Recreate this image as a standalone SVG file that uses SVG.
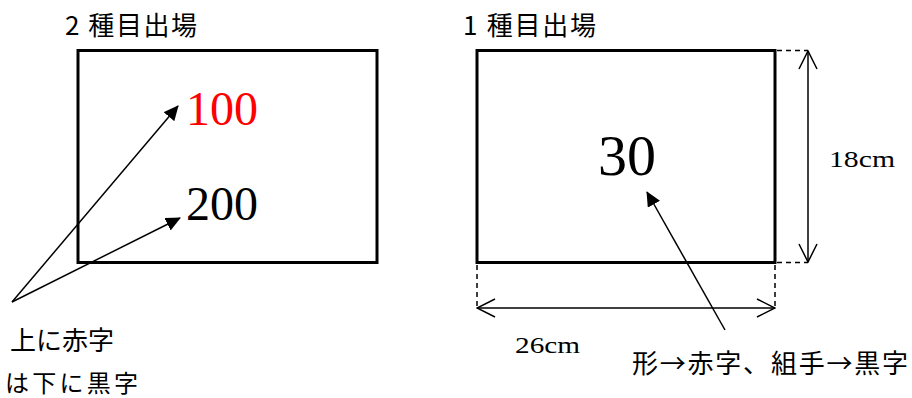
<svg xmlns="http://www.w3.org/2000/svg" width="912" height="398" viewBox="0 0 912 398">
<style>
.box{fill:#fff;stroke:#000;stroke-width:3}
.t{font-family:"Liberation Serif","Noto Sans CJK JP",serif;fill:#000}
.jp{font-family:"Noto Sans CJK JP","Liberation Serif",serif;fill:#000}
.ptr{stroke:#000;stroke-width:1.5;fill:none}
.dim{stroke:#000;stroke-width:1.5;fill:none}
.dash{stroke:#000;stroke-width:1.5;stroke-dasharray:5 4;fill:none}
</style>
<defs>
<marker id="fill" markerUnits="userSpaceOnUse" markerWidth="16" markerHeight="14" refX="14" refY="7" orient="auto">
<path d="M0,0 L15,7 L0,14 Z" fill="#000"/>
</marker>
<marker id="open" markerUnits="userSpaceOnUse" markerWidth="20" markerHeight="22" refX="19" refY="11" orient="auto-start-reverse">
<path d="M1,2 L19,11 L1,20" fill="none" stroke="#000" stroke-width="1.5"/>
</marker>
</defs>
<rect width="912" height="398" fill="#fff"/>
<g id="left-panel">
<text class="jp" x="65" y="35" font-size="26" textLength="132" lengthAdjust="spacing">2 種目出場</text>
<rect class="box" x="78" y="50.5" width="299" height="212"/>
<text class="t" x="186" y="125" font-size="48" fill="#ff0000" style="fill:#ff0000">100</text>
<text class="t" x="186" y="220" font-size="48">200</text>
</g>
<g id="right-panel">
<text class="jp" x="463" y="35" font-size="26" textLength="133" lengthAdjust="spacing">1 種目出場</text>
<rect class="box" x="477" y="50.5" width="298" height="212"/>
<text class="t" x="598" y="175" font-size="58">30</text>
</g>
<g id="dimension-height">
<text class="t" x="829" y="167" font-size="24" textLength="66" lengthAdjust="spacingAndGlyphs">18cm</text>
</g>
<g id="dimension-width">
<text class="t" x="515" y="353" font-size="24" textLength="65" lengthAdjust="spacingAndGlyphs">26cm</text>
</g>
<g id="note-right">
<text class="jp" x="632" y="373" font-size="26" textLength="276" lengthAdjust="spacing">形→赤字、組手→黒字</text>
</g>
<g id="note-left">
<text class="jp" x="10" y="350" font-size="26">上に赤字</text>
<text class="jp" x="5" y="392" font-size="24" textLength="133" lengthAdjust="spacing">は下に黒字</text>
</g>
<g id="connectors">
<line class="ptr" x1="12" y1="302" x2="178" y2="106" marker-end="url(#fill)"/>
<line class="ptr" x1="12" y1="302" x2="180" y2="218" marker-end="url(#fill)"/>
<line class="ptr" x1="725" y1="330" x2="647" y2="192" marker-end="url(#fill)"/>
<line class="dash" x1="777" y1="50.5" x2="808" y2="50.5"/>
<line class="dash" x1="777" y1="262.5" x2="808" y2="262.5"/>
<line class="dim" x1="808" y1="51" x2="808" y2="262" marker-start="url(#open)" marker-end="url(#open)"/>
<line class="dash" x1="477" y1="265" x2="477" y2="308"/>
<line class="dash" x1="775" y1="265" x2="775" y2="308"/>
<line class="dim" x1="477" y1="308" x2="775" y2="308" marker-start="url(#open)" marker-end="url(#open)"/>
</g>
</svg>
